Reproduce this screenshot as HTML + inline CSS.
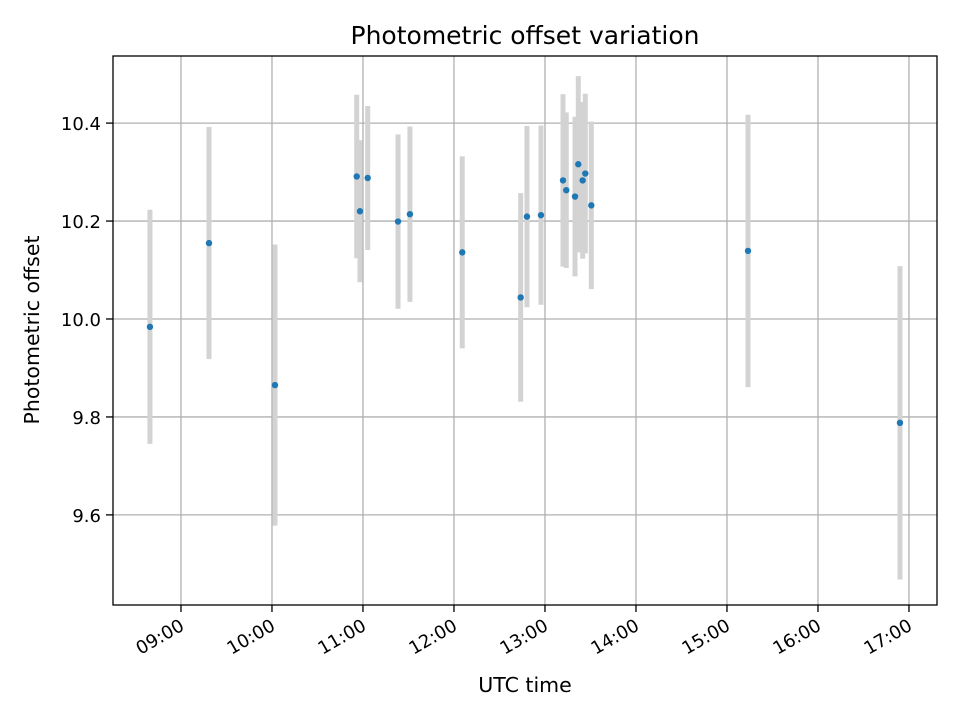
<!DOCTYPE html>
<html><head><meta charset="utf-8"><style>
body{margin:0;background:#fff}
svg{display:block}
text{font-family:"DejaVu Sans","Liberation Sans",sans-serif;fill:#000}
</style></head><body>
<svg id="chart" width="960" height="720" xmlns="http://www.w3.org/2000/svg">
<rect width="960" height="720" fill="#fff"/>
<g id="grid"></g>
<g id="errbars"></g>
<g id="points"></g>
<rect x="113" y="56" width="824" height="549" fill="none" stroke="#000" stroke-width="1.3"/>
<g id="xticks"></g>
<g id="yticks"></g>
<text x="525" y="44" text-anchor="middle" font-size="25">Photometric offset variation</text>
<text x="525" y="692" text-anchor="middle" font-size="20.5">UTC time</text>
<text x="39" y="330" text-anchor="middle" font-size="20.5" transform="rotate(-90 39 330)">Photometric offset</text>
</svg>
<script>
const times = [8.659,9.308,10.033,10.931,10.967,11.052,11.385,11.516,12.091,12.733,12.802,12.956,13.198,13.234,13.330,13.366,13.414,13.443,13.509,15.231,16.901];
const values = [9.984,10.155,9.865,10.291,10.220,10.288,10.199,10.214,10.136,10.044,10.209,10.212,10.283,10.263,10.250,10.316,10.283,10.297,10.232,10.139,9.788];
const errors = [0.239,0.237,0.287,0.167,0.145,0.147,0.178,0.179,0.196,0.213,0.185,0.183,0.176,0.159,0.163,0.180,0.160,0.163,0.171,0.278,0.320];
const xTickHours = [9,10,11,12,13,14,15,16,17];
const xTickLabels = ["09:00","10:00","11:00","12:00","13:00","14:00","15:00","16:00","17:00"];
const yTickValues = [9.6,9.8,10.0,10.2,10.4];
const yTickLabels = ["9.6","9.8","10.0","10.2","10.4"];

const L=113,R=937,T=56,B=605;
const xMin=8.253,xMax=17.308,yMin=9.416,yMax=10.537;
const X=h=>L+(h-xMin)/(xMax-xMin)*(R-L);
const Y=v=>B-(v-yMin)/(yMax-yMin)*(B-T);
const NS="http://www.w3.org/2000/svg";
function mk(tag,attrs,parent){const e=document.createElementNS(NS,tag);for(const k in attrs)e.setAttribute(k,attrs[k]);parent.appendChild(e);return e;}
const grid=document.getElementById('grid'),xt=document.getElementById('xticks'),yt=document.getElementById('yticks');
const eb=document.getElementById('errbars'),pts=document.getElementById('points');

xTickHours.forEach((h,i)=>{
  const x=X(h);
  const g=mk('line',{x1:x,x2:x,y1:T,y2:B,stroke:'#b0b0b0','stroke-width':1.3},grid);
  
  
  const t=mk('line',{x1:x,x2:x,y1:B,y2:B+7,stroke:'#000','stroke-width':1.3},xt);
  
  
  const ax=x-2, ay=B+13;
  const lb=mk('text',{x:ax,y:ay,'font-size':18,'text-anchor':'end',transform:`rotate(-30 ${ax} ${ay})`,'dominant-baseline':'hanging'},xt);
  lb.textContent=xTickLabels[i];
  
  
});
yTickValues.forEach((v,i)=>{
  const y=Y(v);
  const g=mk('line',{x1:L,x2:R,y1:y,y2:y,stroke:'#b0b0b0','stroke-width':1.3},grid);
  
  
  const t=mk('line',{x1:L-7,x2:L,y1:y,y2:y,stroke:'#000','stroke-width':1.3},yt);
  
  
  const lb=mk('text',{x:L-12,y:y+7,'font-size':18,'text-anchor':'end'},yt);
  lb.textContent=yTickLabels[i];
  
  
});
times.forEach((h,i)=>{
  const x=X(h);
  const e=mk('line',{x1:x,x2:x,y1:Y(values[i]+errors[i]),y2:Y(values[i]-errors[i]),stroke:'#d3d3d3','stroke-width':5},eb);
  
  
});
times.forEach((h,i)=>{
  const c=mk('circle',{cx:X(h),cy:Y(values[i]),r:3.2,fill:'#1f77b4'},pts);
  
  
});
</script>
</body></html>
